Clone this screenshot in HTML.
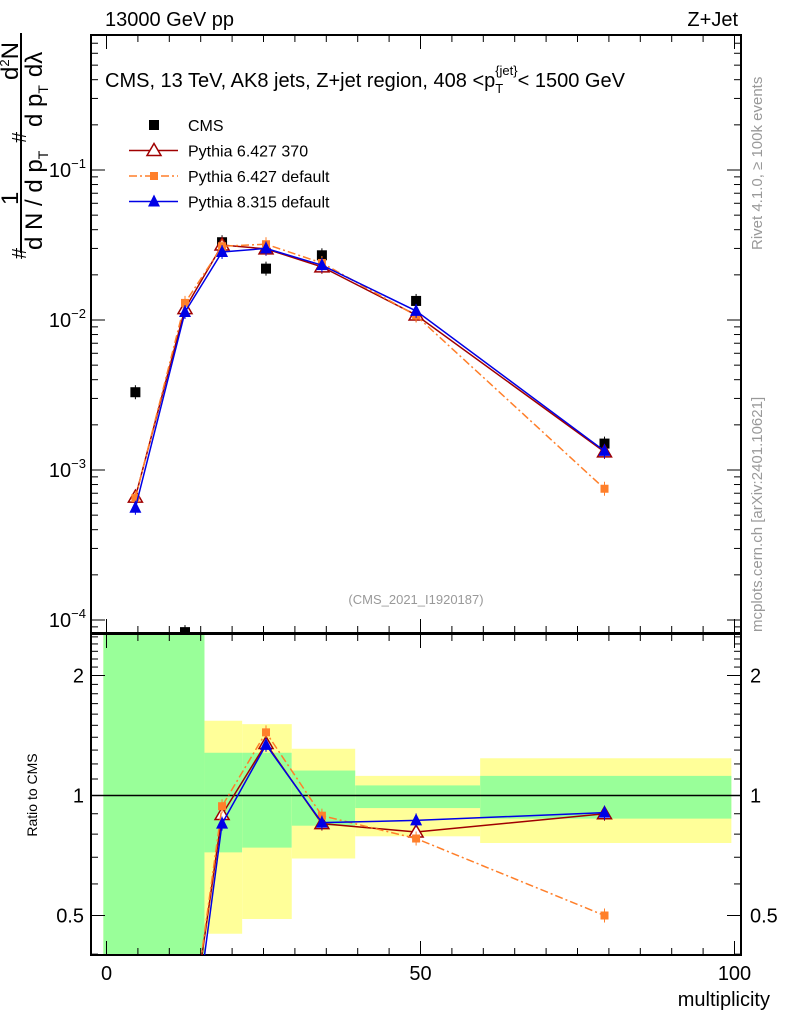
<!DOCTYPE html>
<html><head><meta charset="utf-8"><style>
html,body{margin:0;background:#fff;width:786px;height:1024px;overflow:hidden}
svg{font-family:"Liberation Sans",sans-serif;display:block}
</style></head><body>
<svg id="c" width="786" height="1024">
<g id="bands"></g>
<g id="axes"></g>
<g id="series"></g>
<text x="105" y="26" font-size="20">13000 GeV pp</text>
<text x="738" y="26" font-size="20" text-anchor="end">Z+Jet</text>
<text x="105" y="87" font-size="20">CMS, 13 TeV, AK8 jets, Z+jet region, 408 &lt;p<tspan font-size="13" dy="6">T</tspan><tspan font-size="13" dy="-18" dx="-8">{jet}</tspan><tspan dy="12">&lt; 1500 GeV</tspan></text>
<text x="416" y="604" font-size="13" fill="#999" text-anchor="middle">(CMS_2021_I1920187)</text>
<text x="770" y="1006" font-size="20" text-anchor="end">multiplicity</text>
<text transform="translate(37,795) rotate(-90)" font-size="14" text-anchor="middle">Ratio to CMS</text>
<g font-size="24">
<line x1="21" y1="33" x2="21" y2="253" stroke="#000" stroke-width="2"/>
<text transform="translate(18,80) rotate(-90)">d<tspan font-size="13" dy="-9">2</tspan><tspan dy="9">N</tspan></text>
<text transform="translate(26,143) rotate(-90)" font-size="20">#</text>
<text transform="translate(18,205) rotate(-90)">1</text>
<text transform="translate(26,259) rotate(-90)" font-size="20">#</text>
<text transform="translate(42,250) rotate(-90)">d N / d p<tspan font-size="14" dy="6">T</tspan></text>
<text transform="translate(42,127) rotate(-90)">d p<tspan font-size="14" dy="6">T</tspan><tspan dy="-6" dx="8">dλ</tspan></text>
</g>
<text transform="translate(762,250) rotate(-90)" font-size="15" fill="#999">Rivet 4.1.0, ≥ 100k events</text>
<text transform="translate(762,632) rotate(-90)" font-size="15" fill="#999">mcplots.cern.ch [arXiv:2401.10621]</text>
<g id="legend"></g>
</svg>
<script>
const xCenters=[4.6,12.5,18.4,25.4,34.3,49.3,79.3];
const cmsVals=[3.3e-3,8.3e-5,0.033,0.022,0.027,0.0134,0.0015];
const py6370=[6.6e-4,0.0119,0.0316,0.0298,0.0226,0.0108,0.00132];
const py6def=[6.5e-4,0.0130,0.031,0.032,0.024,0.0107,7.5e-4];
const py8def=[5.6e-4,0.0113,0.0284,0.030,0.0232,0.0115,0.00134];
const r6370=[0.2,0.2,0.896,1.35,0.85,0.81,0.90];
const r6def=[0.2,0.2,0.94,1.44,0.89,0.78,0.50];
const r8def=[0.17,0.17,0.85,1.34,0.855,0.866,0.906];
const binEdges=[-0.5,15.6,21.6,29.5,39.6,59.5,99.5];
const greenLo=[0.3,0.72,0.74,0.84,0.93,0.875];
const greenHi=[3,1.28,1.28,1.155,1.06,1.12];
const yelLo=[0.3,0.45,0.49,0.695,0.79,0.76];
const yelHi=[3,1.54,1.51,1.31,1.12,1.24];
const xTicks=[0,50,100];
const yTickExp=[-1,-2,-3,-4];
const rTicks=[0.5,1,2];

const NS="http://www.w3.org/2000/svg";
const L=91,R=741,T1=35,B1=633,T2=634,B2=955;
const X=v=>106.5+6.28*v;
const Y=v=>170-150*(Math.log10(v)+1);
const YR=r=>795.5-120*Math.log2(r);
function mk(p,tag,a){const e=document.createElementNS(NS,tag);for(const k in a)e.setAttribute(k,a[k]);p.appendChild(e);return e;}
const bands=document.getElementById('bands'),axes=document.getElementById('axes'),ser=document.getElementById('series');
const clampR=y=>Math.max(T2,Math.min(B2,y));
for(let i=0;i<6;i++){
 const x0=Math.max(X(binEdges[i]),103),x1=X(binEdges[i+1]);
 const y=mk(bands,'rect',{x:x0,y:clampR(YR(yelHi[i])),width:x1-x0,height:clampR(YR(yelLo[i]))-clampR(YR(yelHi[i])),fill:'#ffff99'});
 
 
 const g=mk(bands,'rect',{x:x0,y:clampR(YR(greenHi[i])),width:x1-x0,height:clampR(YR(greenLo[i]))-clampR(YR(greenHi[i])),fill:'#99ff99'});
 
 
}
mk(axes,'rect',{x:L,y:T1,width:R-L,height:B1-T1,fill:'none',stroke:'#000','stroke-width':2});
mk(axes,'rect',{x:L,y:T2,width:R-L,height:B2-T2,fill:'none',stroke:'#000','stroke-width':2});
mk(axes,'line',{x1:L,x2:R,y1:YR(1),y2:YR(1),stroke:'#000','stroke-width':1.5});
for(let v=0;v<=100;v+=5){const big=v%50==0,h=big?14:7;
 for(const [t,b] of [[T1,B1],[T2,B2]]){mk(axes,'line',{x1:X(v),x2:X(v),y1:t,y2:t+h,stroke:'#000'});mk(axes,'line',{x1:X(v),x2:X(v),y1:b,y2:b-h,stroke:'#000'});}}
xTicks.forEach(v=>{const t=mk(axes,'text',{x:X(v),y:980,'font-size':20,'text-anchor':'middle'});t.textContent=v;
 
 });
for(let e=-5;e<=0;e++)for(let m=1;m<10;m++){const v=m*Math.pow(10,e),y=Y(v);if(y<T1||y>B1)continue;const h=m==1?14:7;
 mk(axes,'line',{x1:L,x2:L+h,y1:y,y2:y,stroke:'#000'});mk(axes,'line',{x1:R,x2:R-h,y1:y,y2:y,stroke:'#000'});}
yTickExp.forEach(e=>{const t=mk(axes,'text',{x:86,y:Y(Math.pow(10,e))+7,'font-size':20,'text-anchor':'end'});
 t.innerHTML='10<tspan font-size="13" dy="-9">−'+(-e)+'</tspan>';
 
 });
for(let r=0.4;r<=2.6;r+=0.1){const y=YR(r);if(y<T2||y>B2)continue;const big=[0.5,1,2].some(v=>Math.abs(v-r)<1e-6),h=big?14:7;
 mk(axes,'line',{x1:L,x2:L+h,y1:y,y2:y,stroke:'#000'});mk(axes,'line',{x1:R,x2:R-h,y1:y,y2:y,stroke:'#000'});}
rTicks.forEach(r=>{for(const [x,a] of [[84,'end'],[750,'start']]){const t=mk(axes,'text',{x:x,y:YR(r)+7,'font-size':20,'text-anchor':a});t.textContent=r;
 
 }});
function marker(g,type,x,y,col){
 if(type=='sq')mk(g,'rect',{x:x-5,y:y-5,width:10,height:10,fill:col});
 else if(type=='osq')mk(g,'rect',{x:x-4,y:y-4,width:8,height:8,fill:col});
 else if(type=='otri')mk(g,'path',{d:`M${x},${y-7}L${x+7},${y+5}L${x-7},${y+5}Z`,fill:'#fff',stroke:col,'stroke-width':1.5});
 else mk(g,'path',{d:`M${x},${y-7}L${x+6},${y+5}L${x-6},${y+5}Z`,fill:col});
}
const svg=document.getElementById('c');
const clip=mk(svg,'clipPath',{id:'cp1'});mk(clip,'rect',{x:L,y:T1,width:R-L,height:B1-T1});
const clip2=mk(svg,'clipPath',{id:'cp2'});mk(clip2,'rect',{x:L,y:T2,width:R-L,height:B2-T2});
function series(vals,fy,col,dash,type,name,cp,skip){
 const g=mk(ser,'g',{'clip-path':`url(#${cp})`});
 
 
 const pts=xCenters.map((x,i)=>[X(x),fy(vals[i])]).filter((p,i)=>!(skip&&i==0));
 if(col)mk(g,'polyline',{points:pts.map(p=>p.join(',')).join(' '),fill:'none',stroke:col,'stroke-width':1.5,'stroke-dasharray':dash||'none'});
 pts.forEach(p=>{if(p[1]<B2+5){mk(g,'line',{x1:p[0],x2:p[0],y1:p[1]-7,y2:p[1]+7,stroke:col||'#000'});marker(g,type,p[0],p[1],col||'#000');}});
}
series(cmsVals,Y,null,null,'sq','cms-data','cp1');
series(py6370,Y,'#a00000',null,'otri','pythia6-370-line','cp1');
series(py6def,Y,'#ff7f2a','8,3,2,3','osq','pythia6-default-line','cp1');
series(py8def,Y,'#0000e6',null,'tri','pythia8-default-line','cp1');
series(r6370,YR,'#a00000',null,'otri','pythia6-370-ratio','cp2',true);
series(r6def,YR,'#ff7f2a','8,3,2,3','osq','pythia6-default-ratio','cp2',true);
series(r8def,YR,'#0000e6',null,'tri','pythia8-default-ratio','cp2',true);
const lg=document.getElementById('legend');
const items=[['CMS',null,null,'sq'],['Pythia 6.427 370','#a00000',null,'otri'],['Pythia 6.427 default','#ff7f2a','8,3,2,3','osq'],['Pythia 8.315 default','#0000e6',null,'tri']];
items.forEach((it,i)=>{const y=125+25.5*i;const g=mk(lg,'g',{});
 
 
 if(it[1])mk(g,'line',{x1:129,x2:178,y1:y,y2:y,stroke:it[1],'stroke-width':1.5,'stroke-dasharray':it[2]||'none'});
 marker(g,it[3],154,y,it[1]||'#000');
 const t=mk(g,'text',{x:188,y:y+6,'font-size':16});t.textContent=it[0];});
</script>
</body></html>
